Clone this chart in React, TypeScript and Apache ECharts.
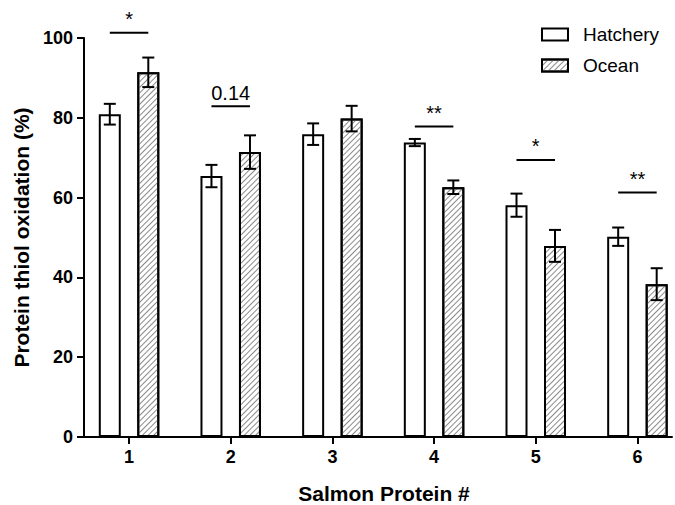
import React, { useEffect, useRef } from "react";
import * as echarts from "echarts";

const categories = [1, 2, 3, 4, 5, 6];
const hatchery = [80.9, 65.4, 75.9, 73.8, 58.1, 50.2];
const hatcheryErr = [2.6, 2.8, 2.7, 0.9, 2.9, 2.3];
const ocean = [91.4, 71.4, 79.8, 62.6, 47.9, 38.3];
const oceanErr = [3.7, 4.2, 3.2, 1.7, 4.0, 4.0];
const sigLabels = ["*", "0.14", "", "**", "*", "**"];
const sigLevels = [101.3, 82.9, null, 77.8, 69.4, 61.3];
const yTicks = [0, 20, 40, 60, 80, 100];

const FONT = "'Liberation Sans', Arial, Helvetica, sans-serif";
const BAR_W = 22;
const GAP_RATIO = 0.75;
const OFFSET = (BAR_W + BAR_W * GAP_RATIO) / 2;
const CAP = 12;

function errorSeries(vals: number[], errs: number[], dir: number) {
  return {
    type: "custom",
    clip: false,
    silent: true,
    z: 5,
    encode: { x: 0, y: 1 },
    data: categories.map((c, i) => [c, vals[i], errs[i]]),
    renderItem: (params: any, api: any) => {
      const x = api.value(0);
      const v = api.value(1);
      const e = api.value(2);
      const top = api.coord([x, v + e]);
      const bot = api.coord([x, v - e]);
      const cx = top[0] + dir * OFFSET;
      const st = { stroke: "#000", lineWidth: 2 };
      return {
        type: "group",
        children: [
          { type: "line", shape: { x1: cx, y1: top[1], x2: cx, y2: bot[1] }, style: st },
          { type: "line", shape: { x1: cx - CAP / 2, y1: top[1], x2: cx + CAP / 2, y2: top[1] }, style: st },
          { type: "line", shape: { x1: cx - CAP / 2, y1: bot[1], x2: cx + CAP / 2, y2: bot[1] }, style: st },
        ],
      };
    },
  };
}

export default function App() {
  const ref = useRef<HTMLDivElement>(null);
  useEffect(() => {
    if (!ref.current) return;
    const chart = echarts.init(ref.current, null, { renderer: "svg" });
    const sigData = categories
      .map((c, i) => (sigLevels[i] == null ? null : [c, sigLevels[i], i]))
      .filter((d) => d !== null);
    chart.setOption({
      animation: false,
      backgroundColor: "#fff",
      grid: { left: 84, right: 3, top: 38, bottom: 68, outerBoundsMode: "none", containLabel: false },
      legend: {
        data: ["Hatchery", "Ocean"],
        orient: "vertical",
        left: 541,
        top: 25,
        padding: 0,
        itemWidth: 26,
        itemHeight: 12,
        itemGap: 12,
        icon: "rect",
        textStyle: { fontFamily: FONT, fontSize: 19, color: "#000", padding: [0, 0, 0, 10] },
      },
      xAxis: {
        type: "value",
        min: 0.557,
        max: 6.34,
        name: "Salmon Protein #",
        nameLocation: "middle",
        nameGap: 46,
        nameTextStyle: { fontFamily: FONT, fontWeight: "bold", fontSize: 21, color: "#000", padding: [0, 0, 0, 12] },
        axisLine: { show: true, onZero: false, lineStyle: { color: "#000", width: 2 } },
        axisTick: { show: true, length: 7, lineStyle: { color: "#000", width: 2 }, customValues: categories },
        axisLabel: {
          fontFamily: FONT,
          fontWeight: "bold",
          fontSize: 18,
          color: "#000",
          margin: 11,
          customValues: categories,
        },
        splitLine: { show: false },
      },
      yAxis: {
        type: "value",
        min: 0,
        max: 100,
        interval: 20,
        name: "Protein thiol oxidation (%)",
        nameLocation: "middle",
        nameGap: 47,
        nameTextStyle: { fontFamily: FONT, fontWeight: "bold", fontSize: 21, color: "#000" },
        axisLine: { show: true, lineStyle: { color: "#000", width: 2 } },
        axisTick: { show: true, length: 7, lineStyle: { color: "#000", width: 2 } },
        axisLabel: {
          fontFamily: FONT,
          fontWeight: "bold",
          fontSize: 18,
          color: "#000",
          margin: 11,
          formatter: (v: number) => (yTicks.includes(v) ? String(v) : ""),
        },
        splitLine: { show: false },
      },
      series: [
        {
          name: "Hatchery",
          type: "bar",
          barWidth: BAR_W,
          barGap: GAP_RATIO * 100 + "%",
          data: categories.map((c, i) => [c, hatchery[i]]),
          itemStyle: { color: "#fff", borderColor: "#000", borderWidth: 2 },
        },
        {
          name: "Ocean",
          type: "bar",
          barWidth: BAR_W,
          barGap: GAP_RATIO * 100 + "%",
          data: categories.map((c, i) => [c, ocean[i]]),
          itemStyle: {
            color: "#fff",
            borderColor: "#000",
            borderWidth: 2,
            decal: {
              symbol: "rect",
              symbolSize: 1,
              color: "#8a8a8a",
              backgroundColor: null,
              dashArrayX: [1, 0],
              dashArrayY: [1, 3],
              rotation: -Math.PI / 4,
            },
          },
        },
        errorSeries(hatchery, hatcheryErr, -1),
        errorSeries(ocean, oceanErr, 1),
        {
          type: "custom",
          clip: false,
          silent: true,
          encode: { x: 0, y: 1 },
          data: sigData,
          renderItem: (params: any, api: any) => {
            const p = api.coord([api.value(0), api.value(1)]);
            const label = sigLabels[api.value(2)];
            return {
              type: "group",
              children: [
                {
                  type: "line",
                  shape: { x1: p[0] - OFFSET, y1: p[1], x2: p[0] + OFFSET, y2: p[1] },
                  style: { stroke: "#000", lineWidth: 2 },
                },
                {
                  type: "text",
                  x: p[0],
                  y: p[1] - 13.6,
                  style: {
                    text: label,
                    fill: "#000",
                    font: "20px " + FONT,
                    align: "center",
                    verticalAlign: "middle",
                  },
                },
              ],
            };
          },
        },
      ],
    });
    return () => chart.dispose();
  }, []);
  return <div ref={ref} style={{ position: "fixed", left: 0, top: 0, width: 675, height: 505 }} />;
}
